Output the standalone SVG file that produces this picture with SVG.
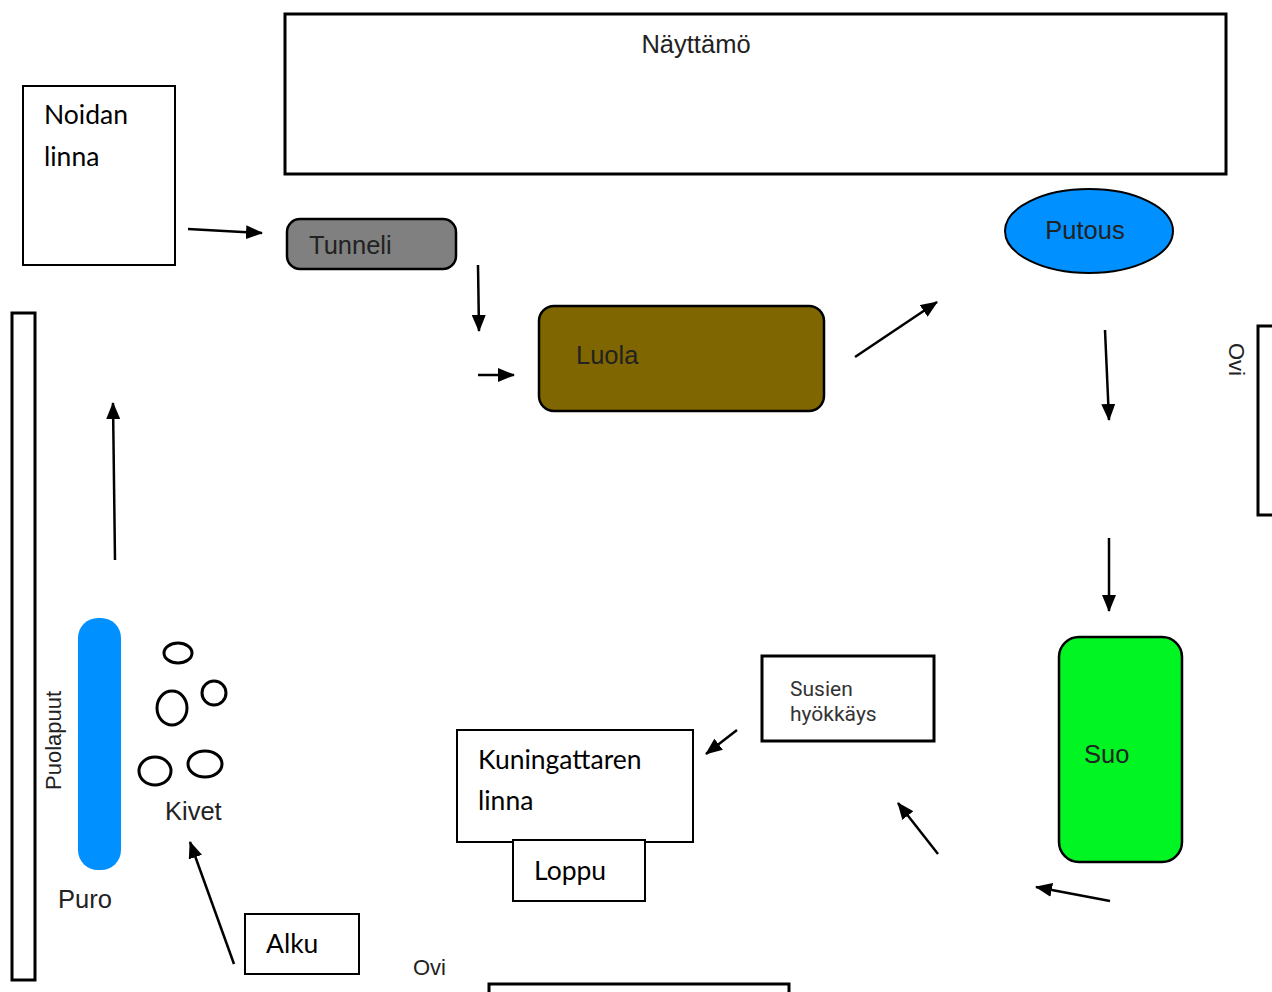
<svg xmlns="http://www.w3.org/2000/svg" width="1272" height="992" viewBox="0 0 1272 992">
<style>
.box{fill:#fff;stroke:#000;stroke-width:2}
.thick{fill:#fff;stroke:#000;stroke-width:3}
.ar{font-family:"Liberation Sans",Arial,sans-serif;font-size:25.5px;fill:#222}
.sm{font-size:22px}
.cal{font-family:Lato,"Open Sans",sans-serif;font-size:26.5px;fill:#000}
.rob{font-family:Roboto,"Liberation Sans",sans-serif;font-size:21px;fill:#333}
.stone{fill:none;stroke:#000;stroke-width:3}
.conn line{stroke:#000;stroke-width:2.5}
</style>
<defs>
<marker id="ah" markerUnits="userSpaceOnUse" markerWidth="18" markerHeight="14" refX="16" refY="7" orient="auto">
<path d="M0,0 L17,7 L0,14 Z" fill="#000"/>
</marker>
</defs>
<rect width="1272" height="992" fill="#fff"/>
<g id="nayttamo"><rect class="thick" x="285" y="14" width="941" height="160"/><text class="ar" x="696" y="53" text-anchor="middle" fill="#333">Näyttämö</text></g>
<g id="noidan-linna"><rect class="box" x="23" y="86" width="152" height="179"/><text class="cal" x="44" y="124">Noidan</text><text class="cal" x="44" y="166">linna</text></g>
<g id="tunneli"><rect x="287" y="219" width="169" height="50" rx="13" fill="#808080" stroke="#000" stroke-width="2.5"/><text class="ar" x="309" y="254">Tunneli</text></g>
<g id="putous"><ellipse cx="1089" cy="231" rx="84" ry="42" fill="#0090ff" stroke="#000" stroke-width="2"/><text class="ar" x="1085" y="239" text-anchor="middle" fill="#0a1a33">Putous</text></g>
<g id="luola"><rect x="539" y="306" width="285" height="105" rx="15" fill="#7f6600" stroke="#000" stroke-width="2.5"/><text class="ar" x="576" y="364" fill="#1a1400">Luola</text></g>
<g id="ovi-right"><path d="M1272,326 H1258 V515 H1272" fill="#fff" stroke="#000" stroke-width="3"/><text class="ar sm" transform="translate(1229,343) rotate(90)" fill="#333">Ovi</text></g>
<g id="puolapuut"><rect class="thick" x="12" y="313" width="23" height="667"/><text class="ar sm" transform="translate(61,790) rotate(-90)" fill="#333">Puolapuut</text></g>
<g id="puro"><rect x="78" y="618" width="43" height="252" rx="20" fill="#0090ff"/><text class="ar" x="58" y="908" fill="#333">Puro</text></g>
<g id="kivet">
<ellipse class="stone" cx="178" cy="653" rx="14" ry="10"/>
<ellipse class="stone" cx="172" cy="708" rx="15" ry="17"/>
<ellipse class="stone" cx="214" cy="693" rx="12" ry="12"/>
<ellipse class="stone" cx="155" cy="771" rx="16" ry="14"/>
<ellipse class="stone" cx="205" cy="764" rx="17" ry="13"/>
<text class="ar" x="165" y="820" fill="#333">Kivet</text>
</g>
<g id="alku"><rect class="box" x="245" y="914" width="114" height="60"/><text class="cal" x="266" y="953">Alku</text></g>
<g id="ovi-bottom"><text class="ar sm" x="413" y="975" fill="#333">Ovi</text><path d="M489,992 V984 H789 V992" fill="#fff" stroke="#000" stroke-width="3"/></g>
<g id="kuningattaren-linna"><rect class="box" x="457" y="730" width="236" height="112"/><text class="cal" x="478" y="769">Kuningattaren</text><text class="cal" x="478" y="810">linna</text></g>
<g id="loppu"><rect class="box" x="513" y="840" width="132" height="61"/><text class="cal" x="534" y="880">Loppu</text></g>
<g id="susien-hyokkays"><rect class="thick" x="762" y="656" width="172" height="85"/><text class="rob" x="790" y="696">Susien</text><text class="rob" x="790" y="721">hyökkäys</text></g>
<g id="suo"><rect x="1059" y="637" width="123" height="225" rx="20" fill="#00f523" stroke="#000" stroke-width="2.5"/><text class="ar" x="1084" y="763" fill="#0a2a0a">Suo</text></g>
<g id="connectors" class="conn">
<line x1="188" y1="229" x2="262" y2="233" marker-end="url(#ah)"/>
<line x1="478" y1="265" x2="479" y2="331" marker-end="url(#ah)"/>
<line x1="478" y1="375" x2="514" y2="375" marker-end="url(#ah)"/>
<line x1="855" y1="357" x2="937" y2="302" marker-end="url(#ah)"/>
<line x1="1105" y1="330" x2="1109" y2="420" marker-end="url(#ah)"/>
<line x1="1109" y1="538" x2="1109" y2="611" marker-end="url(#ah)"/>
<line x1="1110" y1="901" x2="1036" y2="887" marker-end="url(#ah)"/>
<line x1="938" y1="854" x2="898" y2="803" marker-end="url(#ah)"/>
<line x1="737" y1="730" x2="706" y2="754" marker-end="url(#ah)"/>
<line x1="115" y1="560" x2="113" y2="403" marker-end="url(#ah)"/>
<line x1="234" y1="964" x2="190" y2="842" marker-end="url(#ah)"/>
</g>
</svg>
